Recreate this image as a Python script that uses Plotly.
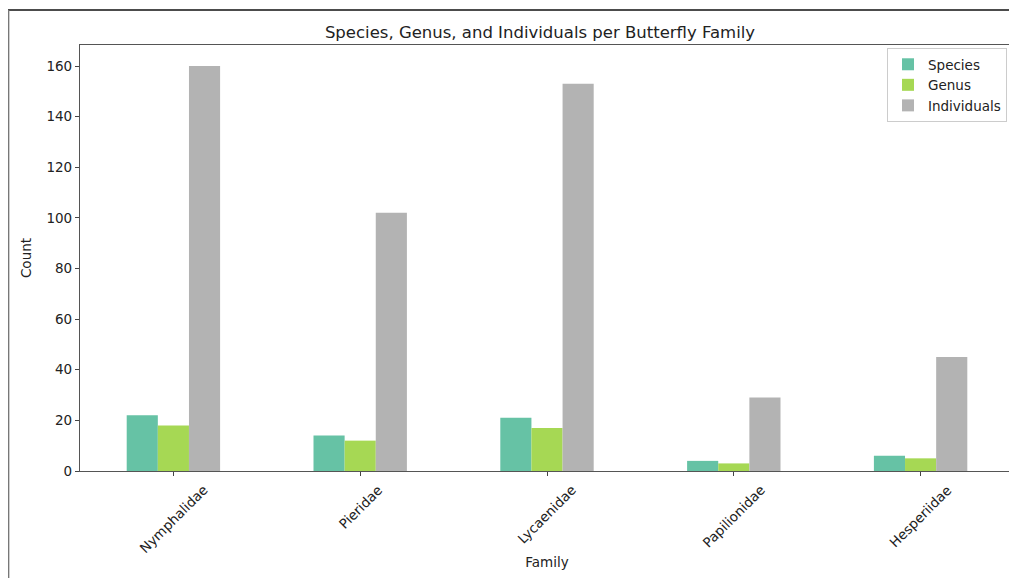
import plotly.graph_objects as go

families = ["Nymphalidae", "Pieridae", "Lycaenidae", "Papilionidae", "Hesperiidae"]
species = [22, 14, 21, 4, 6]
genus = [18, 12, 17, 3, 5]
individuals = [160, 102, 153, 29, 45]
series_names = ["Species", "Genus", "Individuals"]
colors = ["#66c2a5", "#a6d854", "#b3b3b3"]

# page is rendered with an 8px body margin -> work in target coords shifted by OFF
OFF = 8
FW, FH = 1017 - OFF, 578 - OFF
L, T, W, H = 80 - OFF, 45 - OFF, 934, 426

def px(xp):
    return (xp - OFF - L) / W

def py(yp):
    return (T + H - (yp - OFF)) / H

font = "DejaVu Sans, sans-serif"
fs = 13.5

fig = go.Figure()
for name, vals, col in zip(series_names, [species, genus, individuals], colors):
    fig.add_trace(go.Bar(x=families, y=vals, name=name, marker=dict(color=col, line=dict(width=0))))

for f in families:
    fig.add_annotation(x=f, y=py(479), xref="x", yref="paper", text=f, showarrow=False,
                       textangle=-45, xanchor="center", yanchor="top",
                       font=dict(family=font, size=fs, color="#222"))

# outer image border lines
fig.add_shape(type="line", xref="paper", yref="paper", x0=(0 - L) / W, x1=px(1017), y0=py(10), y1=py(10),
              line=dict(color="#111", width=1.5))
fig.add_shape(type="line", xref="paper", yref="paper", x0=(0.6 - L) / W, x1=(0.6 - L) / W, y0=py(10), y1=py(578),
              line=dict(color="#777", width=1.5))

fig.update_layout(
    width=FW, height=FH,
    margin=dict(l=L, r=FW - L - W, t=T, b=FH - T - H),
    paper_bgcolor="white", plot_bgcolor="white",
    barmode="group", bargap=0.5, bargroupgap=0,
    title=dict(text="Species, Genus, and Individuals per Butterfly Family", x=(540 - OFF) / FW,
               xanchor="center", y=1 - (32 - OFF) / FH, yanchor="middle",
               font=dict(family=font, size=16.5, color="#222")),
    font=dict(family=font, size=fs, color="#222"),
    showlegend=True,
    legend=dict(x=px(1007), y=py(48), xanchor="right", yanchor="top",
                bordercolor="#ccc", borderwidth=1, bgcolor="rgba(255,255,255,0.8)",
                font=dict(family=font, size=fs, color="#222"), tracegroupgap=0),
    xaxis=dict(showticklabels=False, ticks="outside", ticklen=4, tickcolor="#444",
               showline=True, linecolor="#555", linewidth=1.2, mirror=True,
               showgrid=False, range=[-0.5, 4.5],
               title=dict(text="Family", standoff=82, font=dict(family=font, size=fs, color="#222"))),
    yaxis=dict(range=[0, 168.3], tickvals=[0, 20, 40, 60, 80, 100, 120, 140, 160],
               ticks="outside", ticklen=4, tickcolor="#444",
               showline=True, linecolor="#555", linewidth=1.2, mirror=True,
               showgrid=False, zeroline=False,
               tickfont=dict(family=font, size=fs, color="#222"),
               title=dict(text="Count", standoff=11, font=dict(family=font, size=fs, color="#222"))),
)

fig.write_html("out.html")
